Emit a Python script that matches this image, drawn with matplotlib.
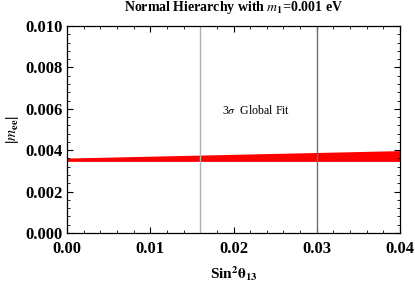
import matplotlib
matplotlib.use("Agg")
import matplotlib.pyplot as plt
from matplotlib.ticker import MultipleLocator

plt.rcParams['font.family'] = ['Liberation Serif', 'DejaVu Serif']
plt.rcParams['mathtext.fontset'] = 'stix'

# Data
x_band = [0.0, 0.04]
lower = [0.00346, 0.00346]
upper = [0.00362, 0.00398]
vlines = [0.016, 0.030]
vline_colors = ['#b0b0b0', '#707070']
xlim = (0.0, 0.04)
ylim = (0.0, 0.010)

fig = plt.figure(figsize=(4.15, 2.84), dpi=100)
ax = fig.add_axes([67/415, 1-233/284, (400-67)/415, (233-26)/284])

ax.fill_between(x_band, lower, upper, color='red', lw=0)
for v, c in zip(vlines, vline_colors):
    ax.axvline(v, color=c, lw=1.0)

ax.text(0.0227, 0.0059, r'3$\sigma$  Global Fit', ha='center', va='center', fontsize=8.6)

ax.set_xlim(*xlim)
ax.set_ylim(*ylim)
ax.xaxis.set_major_locator(MultipleLocator(0.01))
ax.xaxis.set_minor_locator(MultipleLocator(0.002))
ax.yaxis.set_major_locator(MultipleLocator(0.002))
ax.yaxis.set_minor_locator(MultipleLocator(0.0004))
ax.xaxis.set_major_formatter(plt.FuncFormatter(lambda v, p: f'{v:.2f}'))
ax.yaxis.set_major_formatter(plt.FuncFormatter(lambda v, p: f'{v:.3f}'))
ax.tick_params(which='both', direction='in', top=True, right=True, labelsize=12)
ax.tick_params(axis='x', which='major', pad=6)
ax.tick_params(axis='y', which='major', pad=3)
ax.tick_params(which='major', length=4, width=0.8)
ax.tick_params(which='minor', length=2, width=0.6)
for lab in ax.get_xticklabels() + ax.get_yticklabels():
    lab.set_fontweight('bold')
for s in ax.spines.values():
    s.set_linewidth(0.9)

ax.set_title(r'Normal Hierarchy with $\mathbf{\mathit{m}_1}$=0.001 eV', fontsize=10, fontweight='bold', pad=11)
ax.set_xlabel(r'Sin$^{\mathbf{2}}\mathbf{\theta_{13}}$', fontsize=11, fontweight='bold', labelpad=5)
ax.set_ylabel(r'|$\mathbf{\mathit{m}_{ee}}$|', fontsize=11, fontweight='bold', labelpad=3)

fig.savefig('out.png', dpi=100)
